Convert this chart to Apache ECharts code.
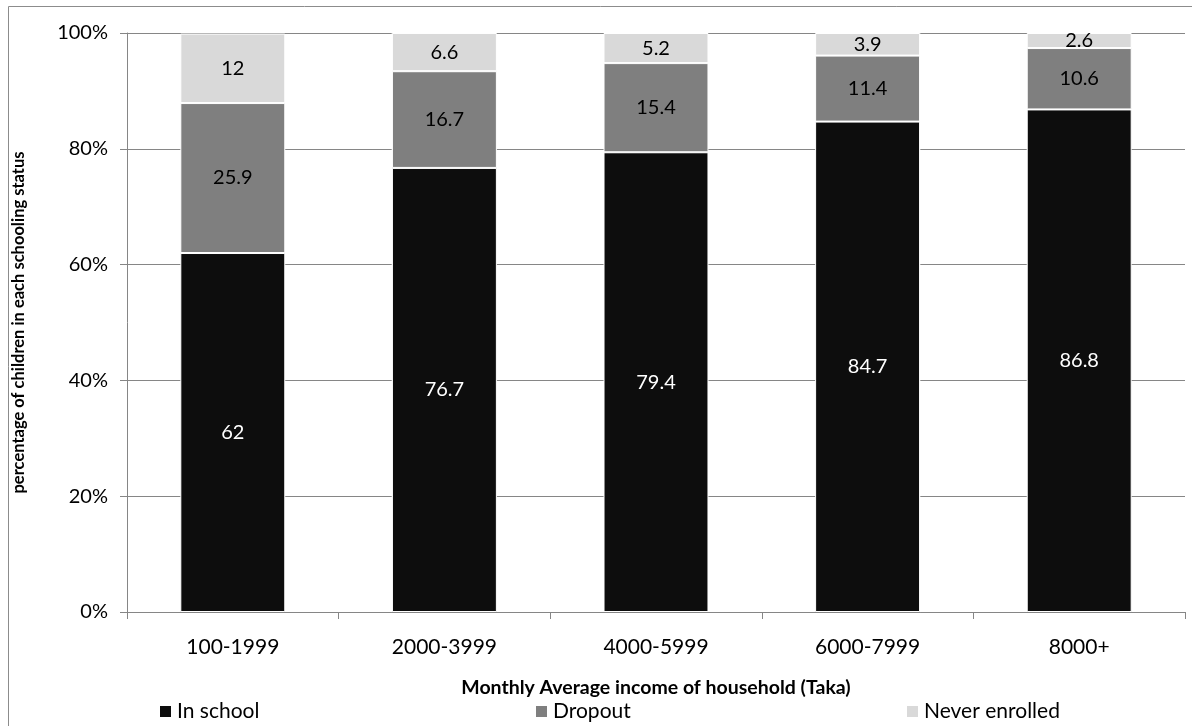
<!DOCTYPE html>
<html lang="en">
<head>
    <meta charset="UTF-8">
    <title>Schooling status by income</title>
    <style>
        html, body { margin: 0; padding: 0; background: #fff; }
        #app { width: 1192px; height: 726px; }
    </style>
</head>
<body>
    <div id="app"></div>
</body>
<script src="https://cdn.jsdelivr.net/npm/echarts@6/dist/echarts.min.js"></script>
<script>
    var categories = ['100-1999', '2000-3999', '4000-5999', '6000-7999', '8000+'];
    var inSchool = [62, 76.7, 79.4, 84.7, 86.8];
    var dropout = [25.9, 16.7, 15.4, 11.4, 10.6];
    var neverEnrolled = [12, 6.6, 5.2, 3.9, 2.6];
    var yTicks = [0, 20, 40, 60, 80, 100];

    var font = 'Lato, "Open Sans", sans-serif';
    var chart = echarts.init(document.getElementById('app'));

    function legendAt(name, left) {
        return {
            data: [name],
            left: left,
            top: 696,
            itemWidth: 13,
            itemHeight: 13,
            icon: 'rect',
            itemGap: 8,
            textStyle: { fontFamily: font, fontSize: 21, color: '#000' }
        };
    }

    function barSeries(name, data, color, labelColor) {
        return {
            name: name,
            type: 'bar',
            stack: 'total',
            barWidth: '49.6%',
            data: data,
            itemStyle: { color: color, borderColor: '#fff', borderWidth: 1 },
            label: {
                show: true,
                position: 'inside',
                color: labelColor,
                fontFamily: font,
                fontSize: 20
            },
            emphasis: { disabled: true }
        };
    }

    var option = {
        animation: false,
        graphic: [{
            type: 'rect',
            shape: { x: 8.5, y: 6.5, width: 1200, height: 740 },
            style: { fill: 'none', stroke: '#8c8c8c', lineWidth: 1 },
            silent: true
        }],
        legend: [
            legendAt('In school', 153),
            legendAt('Dropout', 529),
            legendAt('Never enrolled', 900)
        ],
        grid: { left: 127, right: 7, top: 33, bottom: 114, outerBoundsMode: 'none' },
        xAxis: {
            type: 'category',
            data: categories,
            name: 'Monthly Average income of household (Taka)',
            nameLocation: 'middle',
            nameGap: 66,
            nameTextStyle: { fontFamily: font, fontSize: 19.5, fontWeight: 'bold', color: '#000' },
            axisLine: { lineStyle: { color: '#868686' } },
            axisTick: { show: true, length: 7, lineStyle: { color: '#868686' } },
            axisLabel: { fontFamily: font, fontSize: 21, color: '#000', margin: 25 }
        },
        yAxis: {
            type: 'value',
            min: 0,
            max: 100,
            interval: 20,
            name: 'percentage of children in each schooling status',
            nameLocation: 'middle',
            nameGap: 100,
            nameTextStyle: { fontFamily: font, fontSize: 16.5, fontWeight: 'bold', color: '#000' },
            axisLine: { show: true, lineStyle: { color: '#868686' } },
            axisTick: { show: true, length: 7, lineStyle: { color: '#868686' } },
            splitLine: { lineStyle: { color: '#868686' } },
            axisLabel: {
                fontFamily: font,
                fontSize: 20,
                color: '#000',
                margin: 19,
                formatter: function (v) {
                    return yTicks.indexOf(v) >= 0 ? v + '%' : '';
                }
            }
        },
        series: [
            barSeries('In school', inSchool, '#0d0d0d', '#fff'),
            barSeries('Dropout', dropout, '#7f7f7f', '#000'),
            barSeries('Never enrolled', neverEnrolled, '#d9d9d9', '#000')
        ]
    };
    chart.setOption(option);
</script>
</html>
